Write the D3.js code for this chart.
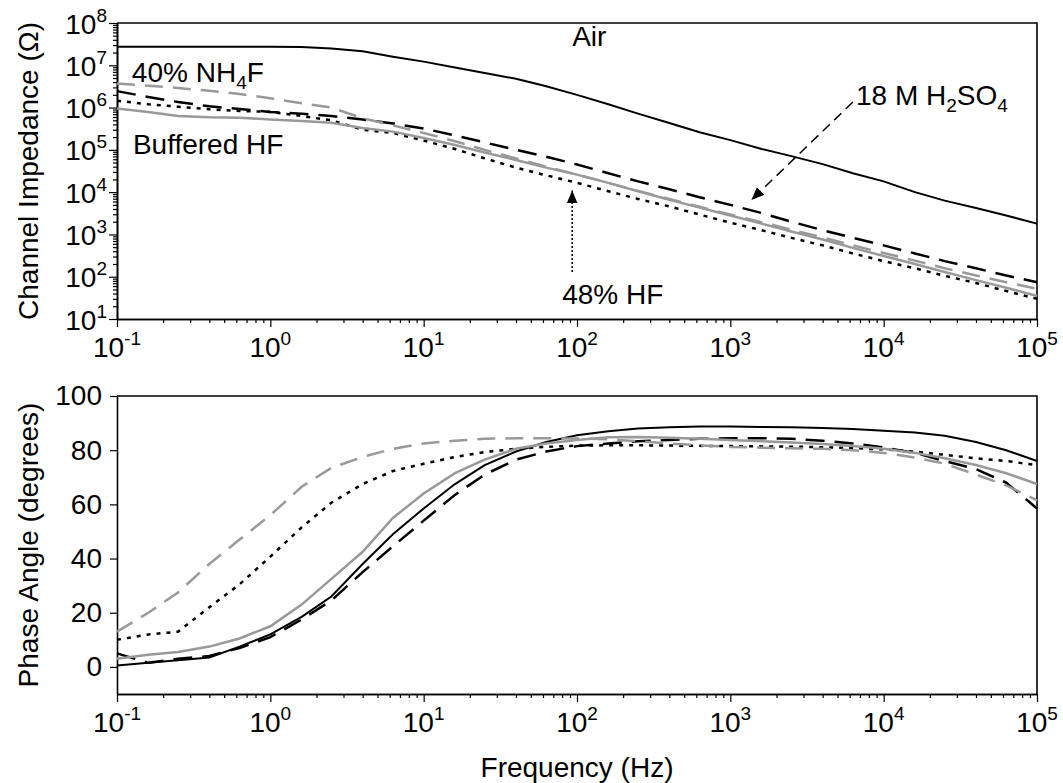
<!DOCTYPE html>
<html>
<head>
<meta charset="utf-8">
<script src="https://cdn.jsdelivr.net/npm/d3@7"></script>
<style>
  body { margin: 0; background: #fff; }
  svg { font-family: "Liberation Sans", Arial, sans-serif; }
</style>
</head>
<body>
<svg id="chart" width="1063" height="783"></svg>
<script>
// Frequencies (Hz) shared by every series
var freq = [0.1, 0.16, 0.25, 0.4, 0.63, 1, 1.6, 2.5, 4, 6.3, 10, 16, 25, 40, 63,
  100, 160, 250, 400, 630, 1000, 1600, 2500, 4000, 6300, 10000, 16000, 25000, 40000, 63000, 100000]

// Channel impedance (ohm)
var zAir = [2.75e7, 2.75e7, 2.75e7, 2.75e7, 2.75e7, 2.75e7, 2.7e7, 2.5e7, 2.15e7, 1.6e7, 1.22e7,
  8.9e6, 6.6e6, 4.8e6, 3.2e6, 2.0e6, 1.2e6, 7.2e5, 4.3e5, 2.6e5, 1.7e5, 1.05e5, 7.1e4, 4.6e4,
  2.8e4, 1.8e4, 1.0e4, 6.3e3, 4.2e3, 2.8e3, 1.8e3]
var zNH4F = [3.7e6, 3.3e6, 2.9e6, 2.5e6, 2.1e6, 1.66e6, 1.26e6, 1.0e6, 5.6e5, 3.8e5, 2.5e5,
  1.6e5, 1.0e5, 6.3e4, 4.0e4, 2.6e4, 1.66e4, 1.07e4, 6.9e3, 4.5e3, 2.95e3, 1.95e3, 1.29e3, 850,
  550, 363, 240, 158, 107, 74, 52]
var zH2SO4 = [2.45e6, 1.78e6, 1.35e6, 1.07e6, 9.3e5, 7.9e5, 7.1e5, 6.3e5, 5.2e5, 4.2e5, 3.2e5,
  2.2e5, 1.5e5, 1.0e5, 6.9e4, 4.5e4, 2.8e4, 1.8e4, 1.17e4, 7.6e3, 5.0e3, 3.2e3, 2.0e3, 1.26e3,
  830, 550, 355, 234, 158, 107, 74]
var zHF48 = [1.45e6, 1.2e6, 1.05e6, 9.1e5, 8.3e5, 7.9e5, 6.3e5, 5.0e5, 3.0e5, 2.5e5, 1.66e5,
  1.05e5, 6.3e4, 3.8e4, 2.5e4, 1.66e4, 1.05e4, 6.9e3, 4.6e3, 2.95e3, 1.9e3, 1.26e3, 830, 550,
  355, 234, 158, 105, 71, 46, 30]
var zBHF = [9.5e5, 7.9e5, 6.3e5, 5.9e5, 5.75e5, 5.25e5, 4.8e5, 4.4e5, 3.3e5, 2.7e5, 1.9e5,
  1.3e5, 8.7e4, 5.75e4, 3.8e4, 2.6e4, 1.66e4, 1.05e4, 6.6e3, 4.3e3, 2.8e3, 1.8e3, 1.17e3, 760,
  480, 310, 200, 129, 83, 55, 35]

// Phase angle (degrees)
var phAir = [0.5, 1.5, 2.5, 3.5, 7.5, 12, 18.5, 26, 38, 49, 58.5, 67.5, 74.5, 79.5, 83, 85.5,
  87, 88, 88.5, 88.7, 88.7, 88.6, 88.5, 88.2, 87.8, 87.2, 86.5, 85.3, 83, 80, 76]
var phNH4F = [13, 20, 27.5, 38, 47, 56, 66.5, 73.5, 77.5, 80.5, 82.5, 83.5, 84.2, 84.4, 84.4,
  84.3, 84, 83.3, 82.5, 81.8, 81.2, 80.9, 80.7, 80.5, 80, 79, 77.3, 75, 71, 67, 61.5]
var phH2SO4 = [5, 1.5, 3, 4, 7, 11, 17.5, 24.5, 35, 44.5, 54, 63.5, 71, 76.5, 79.5, 81.5, 82.5,
  83.3, 83.8, 84.2, 84.4, 84.4, 84.2, 83.5, 82.5, 81, 79, 76, 73, 68, 58.5]
var phHF48 = [10, 12, 13, 22, 30.5, 40.7, 51.5, 60.6, 67.5, 72.3, 75, 77.5, 79.3, 80.5, 81.2,
  81.7, 81.8, 81.8, 81.7, 81.6, 81.5, 81.4, 81.3, 81.1, 80.8, 80.3, 79.5, 78.3, 77, 76, 74.5]
var phBHF = [3, 4.5, 5.5, 7.5, 10.5, 15, 23, 32.5, 42.5, 55, 64, 71.5, 76.5, 80.5, 82.5, 83.8,
  84.8, 84.9, 84.6, 84.2, 83.8, 83.3, 82.8, 82.3, 81.5, 80.5, 79, 77, 74.5, 71.5, 67.5]

var phaseTicks = [0, 20, 40, 60, 80, 100]

// Series styles
var series = [
  {z: zAir, ph: phAir, color: '#000', width: 2, dash: null},
  {z: zH2SO4, ph: phH2SO4, color: '#000', width: 2.5, dash: '19,10'},
  {z: zHF48, ph: phHF48, color: '#000', width: 2.5, dash: '4,6'},
  {z: zBHF, ph: phBHF, color: '#999', width: 2.5, dash: null},
  {z: zNH4F, ph: phNH4F, color: '#999', width: 2.5, dash: '18,10'}
]

var svg = d3.select('#chart')
var FS = 28

// Scales
var x = d3.scaleLog().domain([0.1, 1e5]).range([117, 1037])
var yTop = d3.scaleLog().domain([10, 1e8]).range([319, 23])
var yBot = d3.scaleLinear().domain([-10, 100]).range([694, 396])

function isDecade(v) {
  var l = Math.log10(v)
  return Math.abs(l - Math.round(l)) < 1e-6
}

// "10" with a raised exponent
function powerLabel(t, v) {
  t.append('tspan').text('10')
  t.append('tspan').attr('dy', -12).attr('font-size', 19).text(Math.round(Math.log10(v)))
}

function styleAxis(g) {
  g.select('.domain').attr('stroke', '#000').attr('stroke-width', 1.6)
  g.selectAll('.tick line').attr('stroke', '#000').attr('stroke-width', 1.2)
}

// Log x-axis with minor ticks and power labels
function xAxis(yPos) {
  var ticks = x.ticks()
  var major = ticks.filter(isDecade)
  var minor = ticks.filter(d => !isDecade(d))

  svg.append('g')
    .attr('transform', 'translate(0,' + yPos + ')')
    .call(d3.axisBottom(x).tickValues(minor).tickSize(4).tickSizeOuter(0).tickFormat(''))
    .call(styleAxis)
  svg.append('g')
    .attr('transform', 'translate(0,' + yPos + ')')
    .call(d3.axisBottom(x).tickValues(major).tickSize(8).tickSizeOuter(0).tickFormat(''))
    .call(styleAxis)

  svg.append('g').selectAll('text')
    .data(major)
    .join('text')
    .attr('x', d => x(d))
    .attr('y', yPos + 38)
    .attr('text-anchor', 'middle')
    .attr('font-size', FS)
    .each(function(d) { powerLabel(d3.select(this), d) })
}

// Plot frame (top and right borders)
function frame(y) {
  var [x0, x1] = x.range()
  var [yb, yt] = y.range()
  svg.append('path')
    .attr('d', 'M' + x0 + ',' + yt + 'H' + x1 + 'V' + yb)
    .attr('fill', 'none')
    .attr('stroke', '#000')
    .attr('stroke-width', 1.6)
}

// ---- Top plot: impedance ----
var yt = yTop.ticks()
var ytMajor = yt.filter(isDecade)
var ytMinor = yt.filter(d => !isDecade(d))

svg.append('g')
  .attr('transform', 'translate(' + x.range()[0] + ',0)')
  .call(d3.axisLeft(yTop).tickValues(ytMinor).tickSize(4).tickSizeOuter(0).tickFormat(''))
  .call(styleAxis)
svg.append('g')
  .attr('transform', 'translate(' + x.range()[0] + ',0)')
  .call(d3.axisLeft(yTop).tickValues(ytMajor).tickSize(8).tickSizeOuter(0).tickFormat(''))
  .call(styleAxis)

svg.append('g').selectAll('text')
  .data(ytMajor)
  .join('text')
  .attr('x', x.range()[0] - 10)
  .attr('y', d => yTop(d))
  .attr('dy', '0.38em')
  .attr('text-anchor', 'end')
  .attr('font-size', FS)
  .each(function(d) { powerLabel(d3.select(this), d) })

frame(yTop)
xAxis(yTop.range()[0])

var zLine = d3.line()
  .x((d, i) => x(freq[i]))
  .y(d => yTop(d))

svg.append('g').selectAll('path')
  .data(series)
  .join('path')
  .attr('d', s => zLine(s.z))
  .attr('fill', 'none')
  .attr('stroke', s => s.color)
  .attr('stroke-width', s => s.width)
  .attr('stroke-dasharray', s => s.dash)

// ---- Bottom plot: phase ----
svg.append('g')
  .attr('transform', 'translate(' + x.range()[0] + ',0)')
  .call(d3.axisLeft(yBot).tickValues(phaseTicks).tickSize(7).tickSizeOuter(0).tickPadding(8))
  .call(styleAxis)
  .call(g => g.selectAll('text')
    .attr('font-size', FS)
    .attr('font-family', '"Liberation Sans", Arial, sans-serif')
    .attr('fill', '#000'))

frame(yBot)
xAxis(yBot.range()[0])

var phLine = d3.line()
  .x((d, i) => x(freq[i]))
  .y(d => yBot(d))

svg.append('g').selectAll('path')
  .data(series)
  .join('path')
  .attr('d', s => phLine(s.ph))
  .attr('fill', 'none')
  .attr('stroke', s => s.color)
  .attr('stroke-width', s => s.width)
  .attr('stroke-dasharray', s => s.dash)

// ---- Axis titles ----
var topMid = (yTop.range()[0] + yTop.range()[1]) / 2
var botMid = (yBot.range()[0] + yBot.range()[1]) / 2

svg.append('text')
  .attr('transform', 'translate(38,' + topMid + ') rotate(-90)')
  .attr('text-anchor', 'middle')
  .attr('font-size', FS)
  .text('Channel Impedance (\u03a9)')

svg.append('text')
  .attr('transform', 'translate(38,' + botMid + ') rotate(-90)')
  .attr('text-anchor', 'middle')
  .attr('font-size', FS)
  .text('Phase Angle (degrees)')

svg.append('text')
  .attr('x', (x.range()[0] + x.range()[1]) / 2)
  .attr('y', 777)
  .attr('text-anchor', 'middle')
  .attr('font-size', FS)
  .text('Frequency (Hz)')

// ---- Annotations (placed in data coordinates) ----
var defs = svg.append('defs')
defs.append('marker')
  .attr('id', 'head')
  .attr('viewBox', '0 0 12 10')
  .attr('refX', 12).attr('refY', 5)
  .attr('markerWidth', 13).attr('markerHeight', 11)
  .attr('markerUnits', 'userSpaceOnUse')
  .attr('orient', 'auto')
  .append('path')
  .attr('d', 'M0,0L12,5L0,10z')
  .attr('fill', '#000')

// Label with sub-scripted parts: [text, isSub]
function label(fx, fz, parts) {
  var t = svg.append('text')
    .attr('x', x(fx))
    .attr('y', yTop(fz))
    .attr('font-size', FS)
  var sub = false
  parts.forEach(function([s, isSub]) {
    var dy = isSub && !sub ? 7 : (!isSub && sub ? -7 : 0)
    t.append('tspan')
      .attr('dy', dy)
      .attr('font-size', isSub ? 19 : FS)
      .text(s)
    sub = isSub
  })
}

label(93, 2.9e7, [['Air', false]])
label(0.125, 4.1e6, [['40% NH', false], ['4', true], ['F', false]])
label(0.127, 8e4, [['Buffered HF', false]])
label(80, 23, [['48% HF', false]])
label(6600, 1.15e6, [['18 M H', false], ['2', true], ['SO', false], ['4', true]])

function arrow(f0, z0, f1, z1, dash) {
  svg.append('line')
    .attr('x1', x(f0)).attr('y1', yTop(z0))
    .attr('x2', x(f1)).attr('y2', yTop(z1))
    .attr('stroke', '#000')
    .attr('stroke-width', 1.5)
    .attr('stroke-dasharray', dash)
    .attr('marker-end', 'url(#head)')
}

arrow(6300, 1.35e6, 1370, 6500, '10,6')
arrow(93, 130, 93, 1.1e4, '2,2')
</script>
</body>
</html>
